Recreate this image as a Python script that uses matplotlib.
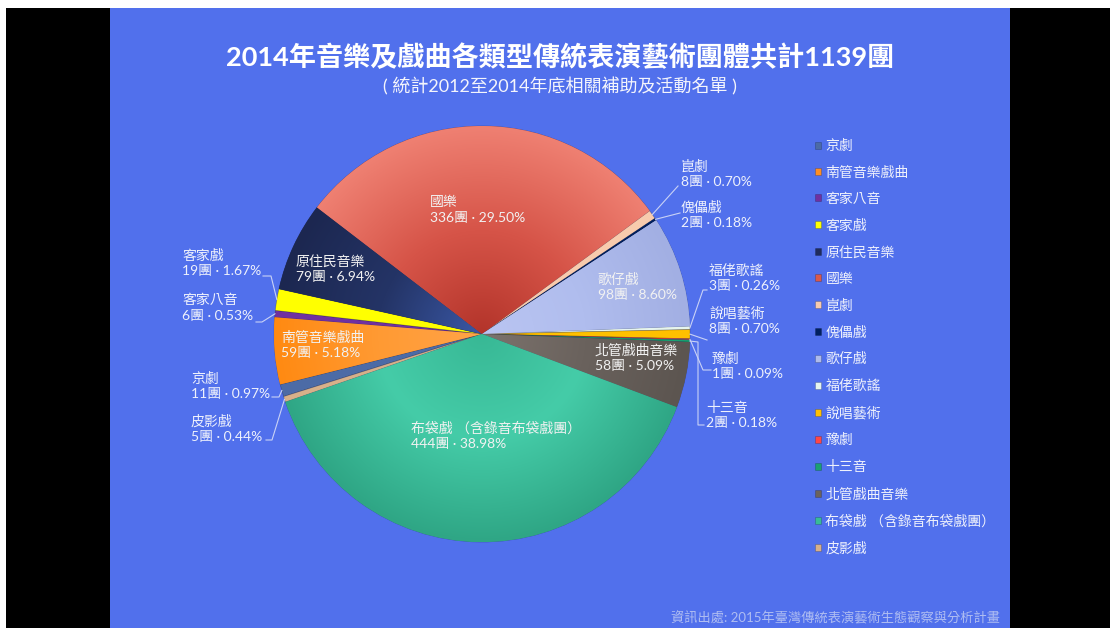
import numpy as np
import matplotlib
matplotlib.use("Agg")
import matplotlib.pyplot as plt
from matplotlib.patches import Rectangle
from matplotlib.colors import LinearSegmentedColormap

plt.rcParams['font.family'] = ['Lato', 'Noto Sans CJK TC', 'DejaVu Sans']

W, H = 1110, 628

# troupe counts per genre, in pie order (clockwise)
genres = ['京劇', '南管音樂戲曲', '客家八音', '客家戲', '原住民音樂', '國樂', '崑劇', '傀儡戲',
          '歌仔戲', '福佬歌謠', '說唱藝術', '豫劇', '十三音', '北管戲曲音樂',
          '布袋戲 （含錄音布袋戲團）', '皮影戲']
counts = [11, 59, 6, 19, 79, 336, 8, 2, 98, 3, 8, 1, 2, 58, 444, 5]
colors = ['#4C6BA6', '#FF8E22', '#7030A0', '#FFFF00', '#1F2B5C', '#D9594A', '#F8CBAD', '#002060',
          '#AEBBEB', '#E6F4EE', '#FFC000', '#FF4646', '#1BA072', '#6B625D', '#38BC97', '#D7B08A']

# shading of the larger slices, from pie centre outwards
shades = {
    1: ['#FFA448', '#FF9A33', '#FF8A12'],
    4: ['#3A58A6', '#243466', '#1C2750'],
    5: ['#B3342A', '#D65448', '#EF8072'],
    8: ['#BAC5F2', '#B0BDEE', '#A2AFE3'],
    13: ['#7C736D', '#6A625D', '#5C5550'],
    14: ['#38B895', '#45CCA8', '#2FA685'],
}

total = sum(counts)

fig = plt.figure(figsize=(W / 100, H / 100), dpi=100, facecolor='white')

# screen frame: black side bars, blue slide
fig.patches.append(Rectangle((6 / W, 0), 1, 620 / H, transform=fig.transFigure,
                             facecolor='black', edgecolor='none', zorder=-3))
fig.patches.append(Rectangle((110 / W, 0), 900 / W, 620 / H, transform=fig.transFigure,
                             facecolor='#5170EC', edgecolor='none', zorder=-2))

# pie axes: centre (482, 334) px, radius 208 px
cx, cy, r = 482, 334, 208
ax = fig.add_axes([(cx - r) / W, (H - cy - r) / H, 2 * r / W, 2 * r / H])
wedges, _ = ax.pie(counts, colors=colors, startangle=197.5, counterclock=False, radius=1,
                   wedgeprops=dict(edgecolor=(0, 0, 0, 0.25), linewidth=0.5))

gx, gy = np.meshgrid(np.linspace(-1, 1, 420), np.linspace(-1, 1, 420))
dist = np.hypot(gx, gy)
for i, stops in shades.items():
    cmap = LinearSegmentedColormap.from_list(f'shade{i}', stops)
    im = ax.imshow(dist, cmap=cmap, vmin=0, vmax=1, extent=(-1, 1, -1, 1), origin='lower',
                   interpolation='bilinear', zorder=wedges[i].get_zorder() + 0.1)
    im.set_clip_path(wedges[i])

ax.set_xlim(-1, 1)
ax.set_ylim(-1, 1)
ax.axis('off')

# overlay axes in pixel coordinates for texts and leader lines
ov = fig.add_axes([0, 0, 1, 1], facecolor='none')
ov.set_xlim(0, W)
ov.set_ylim(H, 0)
ov.axis('off')


def value_text(i):
    return f"{counts[i]}團 · {counts[i] / total * 100:.2f}%"


def edge_point(i):
    w = wedges[i]
    a = np.deg2rad((w.theta1 + w.theta2) / 2)
    return cx + r * np.cos(a), cy - r * np.sin(a)


# labels drawn on the slices
inside = {5: (430, 210), 4: (296, 269), 8: (598, 287), 13: (595, 358), 1: (281, 345), 14: (411, 436)}
for i, (x, y) in inside.items():
    ov.text(x, y, f"{genres[i]}\n{value_text(i)}", ha='left', va='center', fontsize=10,
            color='#F2F2F2', linespacing=1.35)

# labels outside with leader lines: text position, knee points
outside = {
    3: ((182, 263), [(263, 276), (271, 276)]),
    2: ((182, 308), [(256, 322), (262, 322)]),
    0: ((191, 386), [(272, 397), (279, 397)]),
    15: ((191, 429), [(266, 440), (272, 440)]),
    6: ((681, 174), [(678, 186)]),
    7: ((681, 215), [(680, 213)]),
    9: ((709, 278), [(707, 290), (703, 290)]),
    10: ((709, 320), [(707, 340)]),
    11: ((712, 366), [(711, 370), (703, 370)]),
    12: ((706, 415), [(704, 425), (698, 425), (698, 342)]),
}
for i, ((x, y), knees) in outside.items():
    ov.text(x, y, f"{genres[i]}\n{value_text(i)}", ha='left', va='center', fontsize=10,
            color='#EEF1FC', linespacing=1.35)
    px, py = edge_point(i)
    pts = knees + [(px, py)]
    ov.plot([p[0] for p in pts], [p[1] for p in pts], color='#C9D2F6', lw=0.8)

# titles
ov.text(560, 57, '2014年音樂及戲曲各類型傳統表演藝術團體共計1139團', ha='center', va='center',
        fontsize=19.5, fontweight='bold', color='white')
ov.text(560, 86, '( 統計2012至2014年底相關補助及活動名單 )', ha='center', va='center',
        fontsize=13, color='#F4F5FC')
ov.text(1000, 618, '資訊出處: 2015年臺灣傳統表演藝術生態觀察與分析計畫', ha='right', va='center',
        fontsize=9.5, color='#AFBDF2')

# legend
leg = ov.legend(wedges, genres, loc='upper left', bbox_to_anchor=(815 / W, 1 - 139 / H),
                frameon=False, fontsize=10, labelcolor='#EEF1FC', handlelength=0.4,
                handleheight=0.4, handletextpad=0.35, labelspacing=0.99, borderpad=0,
                borderaxespad=0)

fig.savefig('out.png', dpi=100, facecolor=fig.get_facecolor())
